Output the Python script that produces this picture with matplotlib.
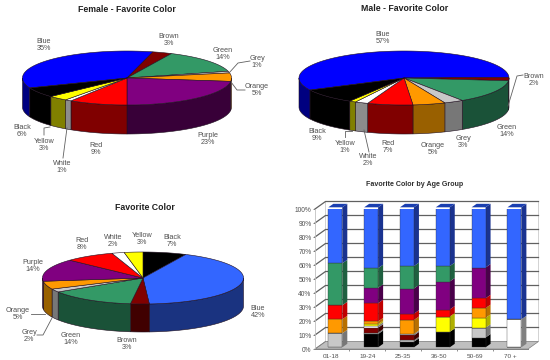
import numpy as np
import matplotlib
matplotlib.use('Agg')
import matplotlib.pyplot as plt
from matplotlib.patches import Polygon

plt.rcParams['font.family'] = ['Liberation Sans', 'DejaVu Sans']

# pie data, clockwise order
female_names = ['Blue', 'Brown', 'Green', 'Grey', 'Orange', 'Purple', 'Red', 'White', 'Yellow', 'Black']
female_vals = [35, 3, 14, 1, 5, 23, 9, 1, 3, 6]
male_names = ['Blue', 'Brown', 'Green', 'Grey', 'Orange', 'Red', 'White', 'Yellow', 'Black']
male_vals = [57, 2, 14, 3, 5, 7, 2, 1, 9]
all_names = ['Black', 'Blue', 'Brown', 'Green', 'Grey', 'Orange', 'Purple', 'Red', 'White', 'Yellow']
all_vals = [7, 42, 3, 14, 2, 5, 14, 8, 2, 3]

# stacked bars, bottom to top
age_groups = ['01-18', '19-24', '25-35', '36-50', '50-69', '70 +']
stack_names = ['Black', 'Grey', 'Brown', 'White', 'Yellow', 'Orange', 'Red', 'Purple', 'Green', 'Blue']
black_pct = [0, 9.5, 4, 11, 7, 0]
grey_pct = [10, 1, 1, 0, 7, 0]
brown_pct = [0, 3.5, 3.5, 0, 0, 0]
white_pct = [0, 1.5, 1, 0, 0, 20]
yellow_pct = [0, 1, 0, 11, 7, 0]
orange_pct = [10, 2, 10, 0, 7, 0]
red_pct = [10, 13, 4.5, 5, 7, 0]
purple_pct = [0, 11, 18, 20, 22, 0]
green_pct = [30, 14, 16, 11, 0, 0]
blue_pct = [40, 43.5, 42, 42, 43, 80]

top_col = {'Blue': '#0000ff', 'Brown': '#800000', 'Green': '#339966', 'Grey': '#c8c8c8',
           'Orange': '#ff9900', 'Purple': '#800080', 'Red': '#ff0000', 'White': '#ffffff',
           'Yellow': '#ffff00', 'Black': '#000000'}
side_col = {'Blue': '#000080', 'Brown': '#400000', 'Green': '#1a5238', 'Grey': '#777777',
            'Orange': '#996000', 'Purple': '#380038', 'Red': '#800000', 'White': '#8c8c8c',
            'Yellow': '#808000', 'Black': '#000000'}
bar_col = dict(top_col, Blue='#3366ff')
bar_side = dict(side_col, Blue='#1a3390', White='#808080', Red='#c00000', Yellow='#b0b000',
                Orange='#b87000', Purple='#4a004a', Green='#1f6040')

# label centres and leader lines, in image pixels
female_pos = [(44, 45), (169, 40), (223, 54), (257, 62), (257, 90), (208, 139), (96, 149), (62, 167), (44, 145), (22, 131)]
male_pos = [(383, 38), (534, 80), (507, 131), (463, 142), (433, 149), (388, 147), (368, 160), (345, 147), (317, 135)]
all_pos = [(172, 241), (258, 312), (127, 344), (71, 339), (29, 336), (18, 314), (33, 266), (82, 244), (113, 241), (142, 239)]
female_lines = [[(250, 61), (238, 63), (229, 73)], [(245, 90), (237, 90), (231, 82)],
                [(50, 127), (44, 128), (44, 135)], [(67, 128), (63, 158)]]
male_lines = [[(523, 75), (517, 76), (508, 106)], [(352, 131), (345, 131), (345, 137)], [(364, 130), (369, 152)]]
all_lines = [[(31, 314), (45, 314)], [(37, 335), (43, 335), (52, 318)]]


def arc(cx, cy, rx, ry, a, b):
    t = np.radians(np.linspace(a, b, max(int(abs(b - a)), 2)))
    return np.column_stack([cx + rx * np.sin(t), cy - ry * np.cos(t)])


def pie3d(ax, names, vals, start, cx, cy, rx, ry, depth, pos, lines, title, title_xy, tops=top_col, sides=side_col):
    edges = start + np.cumsum([0] + vals) * 3.6
    # side walls first, only the front half of the ellipse shows
    for i, n in enumerate(names):
        for k in (-360, 0, 360):
            a = max(edges[i], 90 + k)
            b = min(edges[i + 1], 270 + k)
            if b > a:
                rim = arc(cx, cy, rx, ry, a, b)
                low = rim[::-1] + [0, depth]
                ax.add_patch(Polygon(np.vstack([rim, low]), fc=sides[n], ec='#201020', lw=0.4))
    for i, n in enumerate(names):
        rim = arc(cx, cy, rx, ry, edges[i], edges[i + 1])
        ax.add_patch(Polygon(np.vstack([[cx, cy], rim]), fc=tops[n], ec='#201020', lw=0.4))
    for n, v, p in zip(names, vals, pos):
        ax.text(p[0], p[1], f'{n}\n{v}%', ha='center', va='center', fontsize=5.2, color='#505050', linespacing=1.15)
    for l in lines:
        l = np.array(l)
        ax.plot(l[:, 0], l[:, 1], color='#606060', lw=0.6)
    ax.text(title_xy[0], title_xy[1], title, ha='center', va='center', fontsize=6.3, fontweight='bold', color='#202020')


fig = plt.figure(figsize=(5.5, 3.6), dpi=100)
ax = fig.add_axes([0, 0, 1, 1])
ax.set_xlim(0, 550)
ax.set_ylim(360, 0)
ax.axis('off')

pie3d(ax, female_names, female_vals, -111.6, 127, 78, 104.5, 27, 29, female_pos, female_lines,
      'Female - Favorite Color', (127, 10))
pie3d(ax, male_names, male_vals, -116.5, 404, 78, 105, 27, 29, male_pos, male_lines,
      'Male - Favorite Color', (405, 8.5))
pie3d(ax, all_names, all_vals, 0, 143, 278, 100.5, 26, 28, all_pos, all_lines,
      'Favorite Color', (145, 208), dict(top_col, Blue='#3366ff'), dict(side_col, Blue='#1a3380'))

# bar chart on its own axes, the depth is faked with offsets
bax = fig.add_axes([315 / 550, 1 - 349 / 360, 213 / 550, 140 / 360])
bax.set_xlim(-0.567, 5.38)
bax.set_ylim(0, 100)
bax.patch.set_alpha(0)
for s in bax.spines.values():
    s.set_visible(False)

wall_dx = 0.293
wall_dy = 5.36
x0, x1 = bax.get_xlim()
bax.add_patch(Polygon([(x0 + wall_dx, wall_dy), (x1 + wall_dx, wall_dy), (x1 + wall_dx, 100 + wall_dy), (x0 + wall_dx, 100 + wall_dy)],
                      fc='white', ec='#c0c0c0', lw=0.5, clip_on=False, zorder=1))
bax.add_patch(Polygon([(x0, 0), (x1, 0), (x1 + wall_dx, wall_dy), (x0 + wall_dx, wall_dy)],
                      fc='#bfbfbf', ec='#808080', lw=0.5, clip_on=False, zorder=1))
for g in range(10, 101, 10):
    bax.plot([x0, x0 + wall_dx, x1 + wall_dx], [g, g + wall_dy, g + wall_dy], color='#606060', lw=0.9, clip_on=False, zorder=2)
bax.plot([x0, x0 + wall_dx], [0, wall_dy], color='#808080', lw=0.6, clip_on=False, zorder=2)
bax.plot([x0, x0], [0, 100], color='#c0c0c0', lw=0.6, zorder=2)
bax.plot([x0, x1], [0, 0], color='#808080', lw=0.7, clip_on=False, zorder=2)

stacks = [black_pct, grey_pct, brown_pct, white_pct, yellow_pct, orange_pct, red_pct, purple_pct, green_pct, blue_pct]
xpos = np.arange(len(age_groups))
width = 0.39
bar_dx = 0.14
bar_dy = 2.5
bottom = np.full(len(age_groups), 1.2)
for name, vals in zip(stack_names, stacks):
    vals = np.array(vals, dtype=float)
    bax.bar(xpos, vals, width, bottom=bottom, color=bar_col[name], edgecolor='#303030', linewidth=0.25, zorder=5)
    for x, b, v in zip(xpos, bottom, vals):
        if v > 0:
            r = x + width / 2
            bax.add_patch(Polygon([(r, b), (r + bar_dx, b + bar_dy), (r + bar_dx, b + v + bar_dy), (r, b + v)],
                                  fc=bar_side[name], ec='none', clip_on=False, zorder=4))
    bottom = bottom + vals
for x, b in zip(xpos, bottom):
    l = x - width / 2
    bax.add_patch(Polygon([(l, b), (l + width, b), (l + width + bar_dx, b + bar_dy), (l + bar_dx, b + bar_dy)],
                          fc='#1a3fb0', ec='none', clip_on=False, zorder=4))

bax.set_yticks(range(0, 101, 10))
bax.set_yticklabels([f'{g}%' for g in range(0, 101, 10)])
bax.set_xticks(xpos - 0.11)
bax.set_xticklabels(age_groups)
bax.set_xticks(xpos[:-1] + 0.39, minor=True)
bax.tick_params(axis='y', labelsize=4.8, labelcolor='#505050', length=1.5, width=0.5, pad=1, color='#606060')
bax.tick_params(axis='x', which='major', labelsize=4.6, labelcolor='#505050', length=0, pad=3.5)
bax.tick_params(axis='x', which='minor', length=1.5, width=0.5, color='#606060')
ax.text(415, 184, 'Favorite Color by Age Group', ha='center', va='center', fontsize=5.1, fontweight='bold', color='#303030')

fig.savefig('out.png', dpi=100)
